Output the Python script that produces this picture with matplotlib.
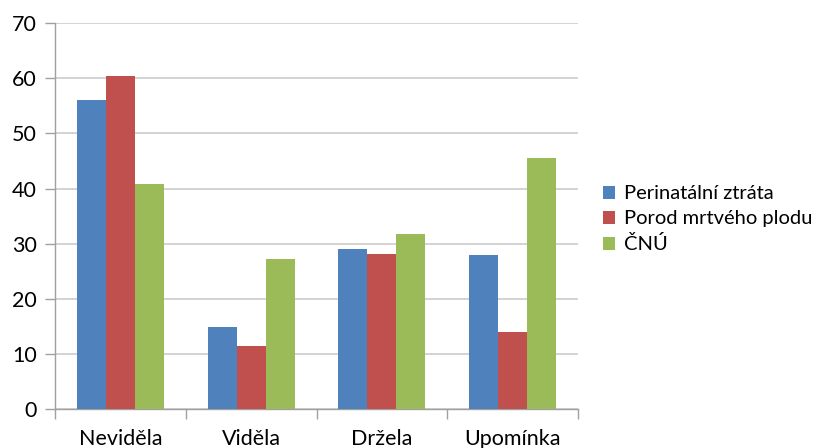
import numpy as np
import matplotlib
matplotlib.use('Agg')
import matplotlib.pyplot as plt

categories = ['Neviděla', 'Viděla', 'Držela', 'Upomínka']
series_names = ['Perinatální ztráta', 'Porod mrtvého plodu', 'ČNÚ']
perinatalni = [56.0, 15.0, 29.0, 28.0]
porod_mrtveho = [60.4, 11.5, 28.2, 14.0]
cnu = [40.9, 27.2, 31.7, 45.5]
colors = ['#4F81BD', '#C0504D', '#9BBB59']

plt.rcParams['font.family'] = ['Lato', 'DejaVu Sans']

fig = plt.figure(figsize=(8.25, 4.48), dpi=100)
ax = fig.add_axes([0.0667, 0.0864, 0.634, 0.862])

x = np.arange(len(categories))
w = 0.222
for i, (vals, name) in enumerate(zip([perinatalni, porod_mrtveho, cnu], series_names)):
    ax.bar(x + (i - 1) * w, vals, width=w, color=colors[i], label=name, zorder=3)

ax.set_xlim(-0.5, len(categories) - 0.5)
ax.set_ylim(0, 70)
ax.set_yticks(range(0, 71, 10))
ax.yaxis.grid(True, color='#cccccc', linewidth=1.2, zorder=0)

# category labels centered, tick marks on the boundaries
ax.set_xticks(x)
ax.set_xticklabels(categories)
ax.set_xticks(np.arange(-0.5, len(categories)), minor=True)
ax.tick_params(axis='x', which='major', length=0, pad=14, labelsize=15.5)
ax.tick_params(axis='x', which='minor', length=7, color='#a0a0a0', width=1)
ax.tick_params(axis='y', length=7, color='#a0a0a0', width=1, labelsize=15.5, pad=6)

for side in ['top', 'right']:
    ax.spines[side].set_visible(False)
for side in ['left', 'bottom']:
    ax.spines[side].set_color('#a0a0a0')
    ax.spines[side].set_linewidth(1)

ax.legend(loc='center left', bbox_to_anchor=(1.032, 0.492), frameon=False,
          fontsize=14.5, handlelength=0.6, handleheight=0.6, handletextpad=0.45,
          labelspacing=0.4, borderaxespad=0)

fig.savefig('out.png', dpi=100)
